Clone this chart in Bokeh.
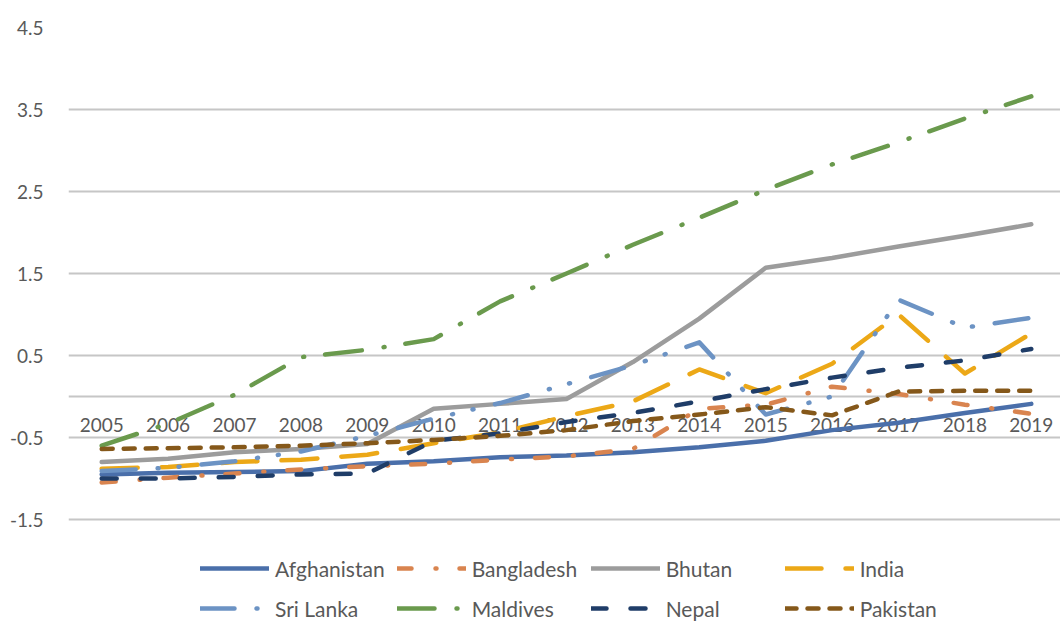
from bokeh.plotting import figure
from bokeh.models import Range1d, FixedTicker, Span, Legend, LegendItem
from bokeh.core.properties import value
from bokeh.embed import file_html
from bokeh.resources import INLINE

# Index values 2005-2019 by country
years = list(range(2005, 2020))
year_labels = [str(y) for y in years]

afghanistan = [-0.95, -0.93, -0.92, -0.91, -0.82, -0.79, -0.74, -0.72, -0.68, -0.62, -0.54, -0.41, -0.32, -0.20, -0.09]
bangladesh = [-1.05, -0.99, -0.94, -0.89, -0.85, -0.82, -0.77, -0.73, -0.64, -0.15, -0.10, 0.12, 0.03, -0.10, -0.21]
bhutan = [-0.80, -0.76, -0.68, -0.64, -0.58, -0.15, -0.09, -0.03, 0.42, 0.95, 1.57, 1.69, 1.83, 1.96, 2.10]
india = [-0.88, -0.86, -0.80, -0.77, -0.71, -0.57, -0.44, -0.24, -0.06, 0.33, 0.04, 0.40, 1.00, 0.28, 0.77]
sri_lanka = [-0.91, -0.87, -0.79, -0.67, -0.48, -0.27, -0.08, 0.15, 0.38, 0.66, -0.22, 0.00, 1.18, 0.84, 0.96]
maldives = [-0.60, -0.33, 0.02, 0.48, 0.57, 0.70, 1.16, 1.50, 1.85, 2.18, 2.52, 2.83, 3.10, 3.39, 3.66]
nepal = [-1.00, -1.00, -0.98, -0.95, -0.94, -0.54, -0.45, -0.31, -0.20, -0.06, 0.09, 0.23, 0.35, 0.44, 0.58]
pakistan = [-0.64, -0.63, -0.62, -0.60, -0.57, -0.53, -0.48, -0.41, -0.30, -0.22, -0.13, -0.23, 0.06, 0.07, 0.07]

y_ticks = [-1.5, -0.5, 0.5, 1.5, 2.5, 3.5, 4.5]
y_tick_labels = ["-1.5", "-0.5", "0.5", "1.5", "2.5", "3.5", "4.5"]

FONT = "Lato"
TEXT_COLOR = "#595959"
GRID_COLOR = "#C6C6C6"
LW = 4.5

series = [
    ("Afghanistan", afghanistan, "#4A6FAA", "solid"),
    ("Bangladesh", bangladesh, "#D9844F", "14 24 1 23"),
    ("Bhutan", bhutan, "#9C9C9C", "solid"),
    ("India", india, "#ECA817", "36 24"),
    ("Sri Lanka", sri_lanka, "#6C93C4", "34 22 1 20 1 22"),
    ("Maldives", maldives, "#6A9A4D", "37 22 1 21"),
    ("Nepal", nepal, "#1F3D68", "15 24"),
    ("Pakistan", pakistan, "#85581A", "11 11"),
]

# 82 px per unit; frame runs from the 4.5 line down to the bottom of the page
frame_h = 622 - 27
p = figure(
    width=1060, height=622,
    output_backend="svg", toolbar_location=None,
    x_range=Range1d(2004.5, 2019.44),
    y_range=Range1d(4.5 - frame_h / 82.0, 4.5),
    min_border_left=68, min_border_right=0, min_border_top=27, min_border_bottom=0,
    x_axis_location=None,
)
p.outline_line_color = None
p.background_fill_color = "white"
p.border_fill_color = "white"
p.xgrid.visible = False

p.yaxis.ticker = FixedTicker(ticks=y_ticks)
p.yaxis.major_label_overrides = dict(zip(y_ticks, y_tick_labels))
p.yaxis.axis_line_color = None
p.yaxis.major_tick_line_color = None
p.yaxis.minor_tick_line_color = None
p.yaxis.major_label_text_font = FONT
p.yaxis.major_label_text_font_size = "19px"
p.yaxis.major_label_text_color = TEXT_COLOR
p.yaxis.major_label_standoff = 19
p.ygrid.grid_line_color = GRID_COLOR
p.ygrid.grid_line_width = 2

# category axis crossing at zero
zero_line = Span(location=0, dimension="width", line_color=GRID_COLOR, line_width=2, level="underlay")
p.add_layout(zero_line)

p.text(x=years, y=[0] * len(years), text=year_labels,
       text_font=value(FONT), text_font_size="19px", text_color=TEXT_COLOR,
       text_align="center", text_baseline="alphabetic", y_offset=28)

items = []
for name, vals, color, dash in series:
    r = p.line(years, vals, line_color=color, line_width=LW, line_dash=dash,
               line_cap="round", line_join="round")
    items.append(LegendItem(label=name, renderers=[r]))

legend = Legend(
    items=items, ncols=4, orientation="horizontal",
    location=(132, 0),
    glyph_width=69, glyph_height=28, label_height=28, label_width=107,
    label_standoff=6, spacing=12, padding=0, margin=0,
    background_fill_alpha=0, border_line_color=None,
    label_text_font=FONT, label_text_font_size="21px", label_text_color=TEXT_COLOR,
)
p.add_layout(legend)

open("out.html", "w").write(file_html(p, INLINE))
